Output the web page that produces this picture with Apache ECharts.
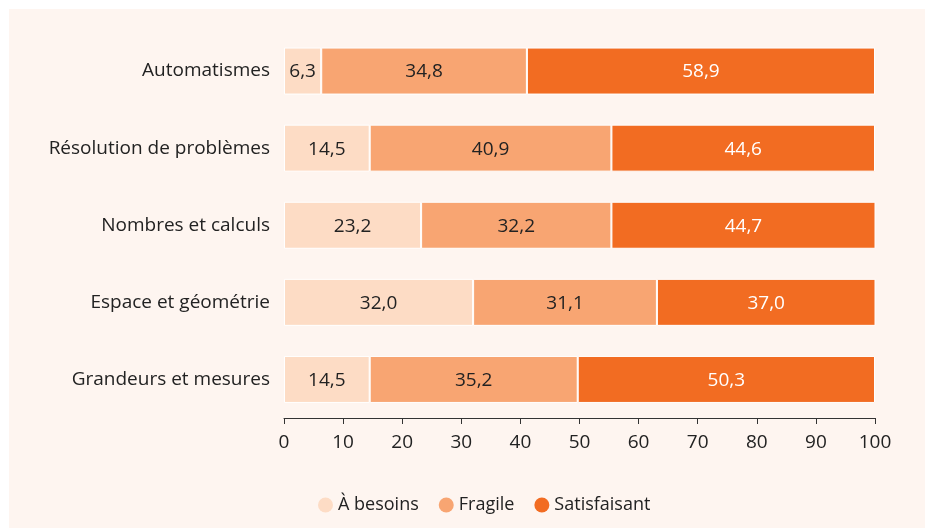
<!DOCTYPE html>
<html><head><meta charset="utf-8">
<script src="https://cdn.jsdelivr.net/npm/echarts@6/dist/echarts.min.js"></script>
<style>html,body{margin:0;padding:0;background:#fff}#c{width:925px;height:528px}</style>
</head><body><div id="c"></div>
<script>
const categories = ["Automatismes","Résolution de problèmes","Nombres et calculs","Espace et géométrie","Grandeurs et mesures"];
const aBesoins = [6.3,14.5,23.2,32.0,14.5];
const fragile = [34.8,40.9,32.2,31.1,35.2];
const satisfaisant = [58.9,44.6,44.7,37.0,50.3];
const xTicks = [0,10,20,30,40,50,60,70,80,90,100];

const font = '"Open Sans", "Noto Sans", sans-serif';
const fmt = p => p.value.toFixed(1).replace('.', ',');
function mk(name, data, color, labelColor){
  return {name, type:'bar', stack:'t', data, barWidth:47,
    itemStyle:{color, borderColor:'#ffffff', borderWidth:1},
    label:{show:true, position:'inside', formatter:fmt, color:labelColor, fontSize:19, fontFamily:font, offset:[0,1]},
    emphasis:{disabled:true}};
}
const chart = echarts.init(document.getElementById('c'));
chart.setOption({
  animation:false,
  backgroundColor:'#ffffff',
  graphic:[{type:'rect', z:-10, shape:{x:9,y:9,width:916,height:519}, style:{fill:'#fef5f0'}}],
  grid:{left:284, right:50, top:32.5, height:385.5},
  xAxis:{type:'value', min:0, max:100, interval:10,
    axisLine:{show:true, lineStyle:{color:'#333', width:1}},
    axisTick:{show:true, length:6, lineStyle:{color:'#333'}},
    splitLine:{show:false},
    axisLabel:{color:'#222', fontSize:19, fontFamily:font, margin:15,
      formatter:v => xTicks.includes(v) ? String(v) : ''}},
  yAxis:{type:'category', data:categories, inverse:true,
    axisLine:{show:false}, axisTick:{show:false},
    axisLabel:{color:'#222', fontSize:19, fontFamily:font, margin:14, padding:[3,0,0,0]}},
  legend:{bottom:9, left:313, itemWidth:15, itemHeight:15, icon:'circle', itemGap:20,
    itemStyle:{borderWidth:0},
    textStyle:{color:'#222', fontSize:18, fontFamily:font},
    data:['À besoins','Fragile','Satisfaisant']},
  series:[
    mk('À besoins', aBesoins, '#fddcc5', '#222'),
    mk('Fragile', fragile, '#f8a572', '#222'),
    mk('Satisfaisant', satisfaisant, '#f26c22', '#ffffff')
  ]
});
</script></body></html>
